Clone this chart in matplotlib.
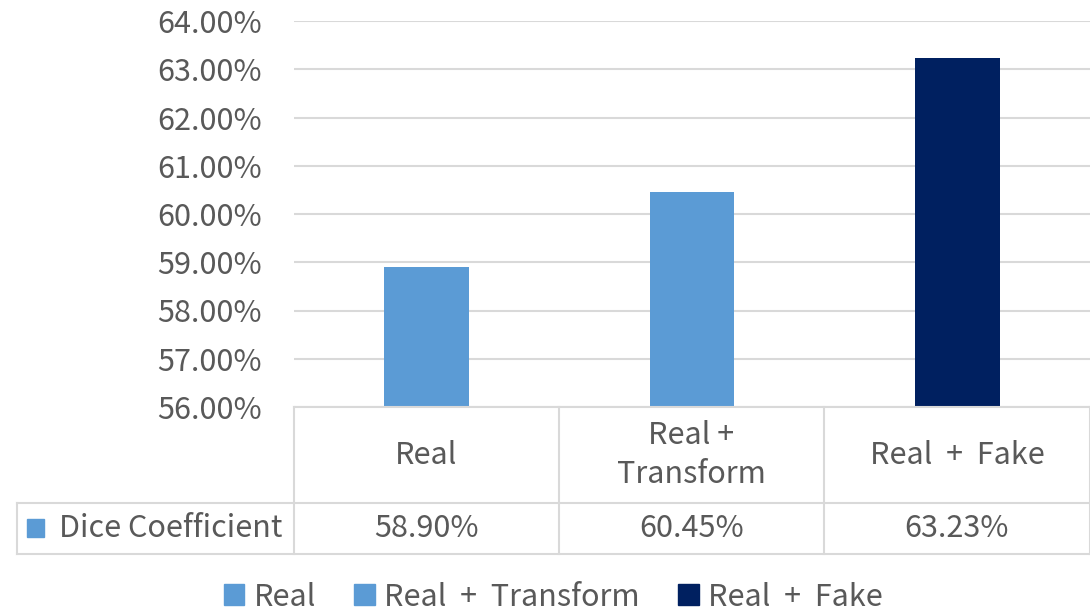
import matplotlib.pyplot as plt
from matplotlib.patches import Rectangle

plt.rcParams['font.family'] = ['Noto Sans CJK KR', 'DejaVu Sans']

categories = ['Real', 'Real +\nTransform', 'Real  +  Fake']
legend_labels = ['Real', 'Real  +  Transform', 'Real  +  Fake']
dice = [58.90, 60.45, 63.23]
colors = ['#5B9BD5', '#5B9BD5', '#002060']
row_label = 'Dice Coefficient'

txt = '#595959'
line = '#d9d9d9'
fs = 22
W, H = 1090, 614

fig = plt.figure(figsize=(W / 100, H / 100), dpi=100)
ax = fig.add_axes([294 / W, 1 - 407 / H, 1 - 294 / W, (407 - 21) / H])

x = range(len(dice))
ax.bar(x, [d - 56 for d in dice], bottom=56, width=0.32, color=colors, zorder=3)
ax.set_xlim(-0.5, len(dice) - 0.5)
ax.set_ylim(56, 64)
ax.set_yticks(range(56, 65))
ax.set_yticklabels([f'{v:.2f}%' for v in range(56, 65)], color=txt, fontsize=fs)
ax.tick_params(axis='y', length=0, pad=23)
ax.set_xticks([])
ax.grid(axis='y', color=line, linewidth=1.5, zorder=0)
for s in ax.spines.values():
    s.set_visible(False)

# data table below the plot (pixel coords)
def fx(px):
    return px / W

def fy(py):
    return 1 - py / H

col_edges = [294, 559, 824, 1090]
y_top, y_mid, y_bot = 407, 503, 554
L = dict(color=line, linewidth=1.5, transform=fig.transFigure, clip_on=False)
fig.add_artist(plt.Line2D([fx(294), fx(1090)], [fy(y_top), fy(y_top)], **L))
fig.add_artist(plt.Line2D([fx(17), fx(1090)], [fy(y_mid), fy(y_mid)], **L))
fig.add_artist(plt.Line2D([fx(17), fx(1090)], [fy(y_bot), fy(y_bot)], **L))
fig.add_artist(plt.Line2D([fx(17), fx(17)], [fy(y_mid), fy(y_bot)], **L))
for cx in col_edges:
    fig.add_artist(plt.Line2D([fx(cx), fx(cx)], [fy(y_top), fy(y_bot)], **L))

for i, (cat, val) in enumerate(zip(categories, dice)):
    cx = (col_edges[i] + col_edges[i + 1]) / 2
    fig.text(fx(cx), fy((y_top + y_mid) / 2), cat, ha='center', va='center',
             color=txt, fontsize=fs, linespacing=1.35)
    fig.text(fx(cx), fy((y_mid + y_bot) / 2), f'{val:.2f}%', ha='center', va='center',
             color=txt, fontsize=fs)

fig.add_artist(Rectangle((fx(27), fy(537)), 17 / W, 18 / H, color='#5B9BD5',
                         transform=fig.transFigure))
fig.text(fx(59), fy((y_mid + y_bot) / 2), row_label, ha='left', va='center',
         color=txt, fontsize=fs)

handles = [Rectangle((0, 0), 1, 1, color=c) for c in colors]
fig.legend(handles, legend_labels, loc='center', bbox_to_anchor=(fx(553), fy(597)),
           ncol=3, frameon=False, fontsize=fs, labelcolor=txt,
           handlelength=0.68, handleheight=0.68, handletextpad=0.3, columnspacing=1.25)

fig.savefig('out.png', dpi=100)
